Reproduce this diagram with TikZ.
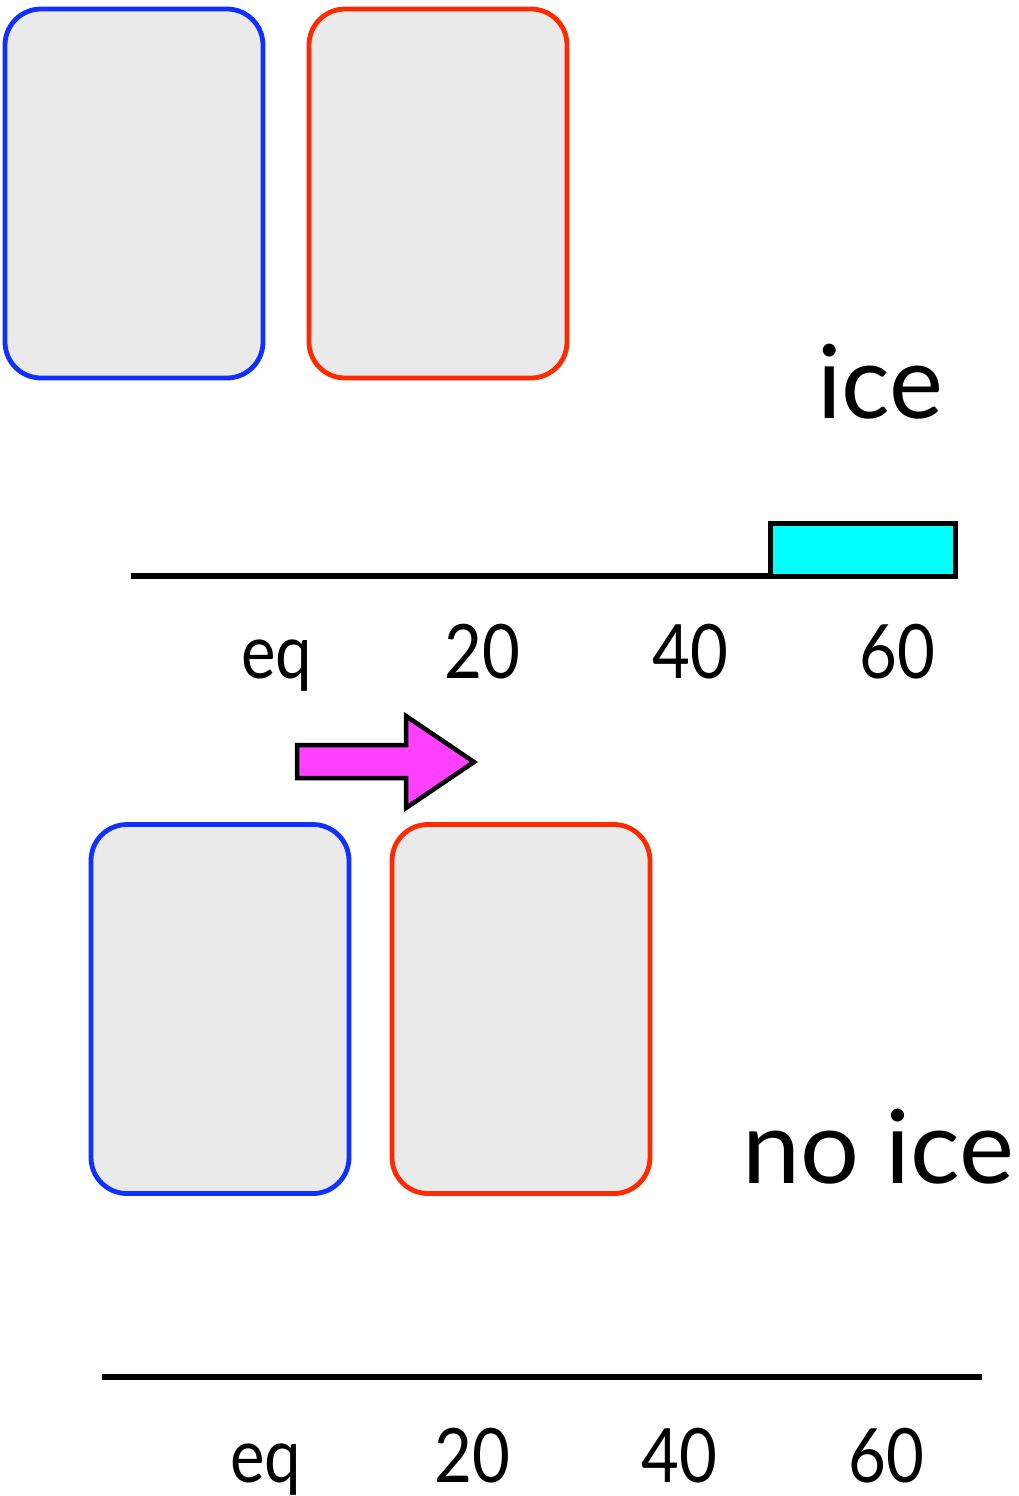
\documentclass[tikz,border=0pt]{standalone}
\usepackage{fontspec}
\setmainfont{Lato}
\usepackage{graphicx}
\definecolor{boxblue}{HTML}{1030FF}
\definecolor{boxred}{HTML}{FF2A00}
\definecolor{boxgray}{HTML}{EAEAEA}
\definecolor{icecyan}{HTML}{00FFFF}
\definecolor{arrowmag}{HTML}{FF40FF}
\begin{document}
\begin{tikzpicture}[x=1pt,y=-1pt,
  cup/.style={draw, line width=4.8pt, fill=boxgray, rounded corners=36pt,
    minimum width=258pt, minimum height=369pt, inner sep=0pt, outer sep=0pt},
  bluecup/.style={cup, draw=boxblue},
  redcup/.style={cup, draw=boxred},
  axisline/.style={line width=6pt},
  tick/.style={anchor=base, inner sep=0pt, font=\fontsize{75}{80}\selectfont},
  bigword/.style={anchor=base west, inner sep=0pt, font=\fontsize{102}{110}\selectfont},
  icebar/.style={draw=black, line width=5pt, fill=icecyan, minimum width=185pt,
    minimum height=53pt, inner sep=0pt, outer sep=0pt}
]
\useasboundingbox (0,0) rectangle (1018,1496);

% top panel
\node[bluecup] (b1) at (134,193.5) {};
\node[redcup] (r1) at (438,193.5) {};
\node[bigword] (ice) at (817,418) {ice};
\node[icebar] (bar) at (862.5,549.5) {};
\coordinate (a1s) at (131,576);
\draw[axisline] (a1s) -- (bar.south west);
\node[tick] (t1eq) at (277,678) {\scalebox{0.87}[1]{eq}};
\node[tick] (t120) at (482,678) {\scalebox{0.87}[1]{20}};
\node[tick] (t140) at (690,678) {\scalebox{0.87}[1]{40}};
\node[tick] (t160) at (897,678) {\scalebox{0.87}[1]{60}};

% arrow
\draw[line width=4.5pt, fill=arrowmag, line join=miter]
  (297,745) -- (406,745) -- (406,716) -- (474,762) -- (406,808) -- (406,778) -- (297,778) -- cycle;

% bottom panel
\node[bluecup] (b2) at (220,1009) {};
\node[redcup] (r2) at (521,1009) {};
\node[bigword] (noice) at (742,1183) {\scalebox{1.02}[1]{no ice}};
\coordinate (a2s) at (102,1377);
\coordinate (a2e) at (982,1377);
\draw[axisline] (a2s) -- (a2e);
\node[tick] (t2eq) at (266,1482) {\scalebox{0.87}[1]{eq}};
\node[tick] (t220) at (472,1482) {\scalebox{0.87}[1]{20}};
\node[tick] (t240) at (679,1482) {\scalebox{0.87}[1]{40}};
\node[tick] (t260) at (886,1482) {\scalebox{0.87}[1]{60}};
\end{tikzpicture}
\end{document}
